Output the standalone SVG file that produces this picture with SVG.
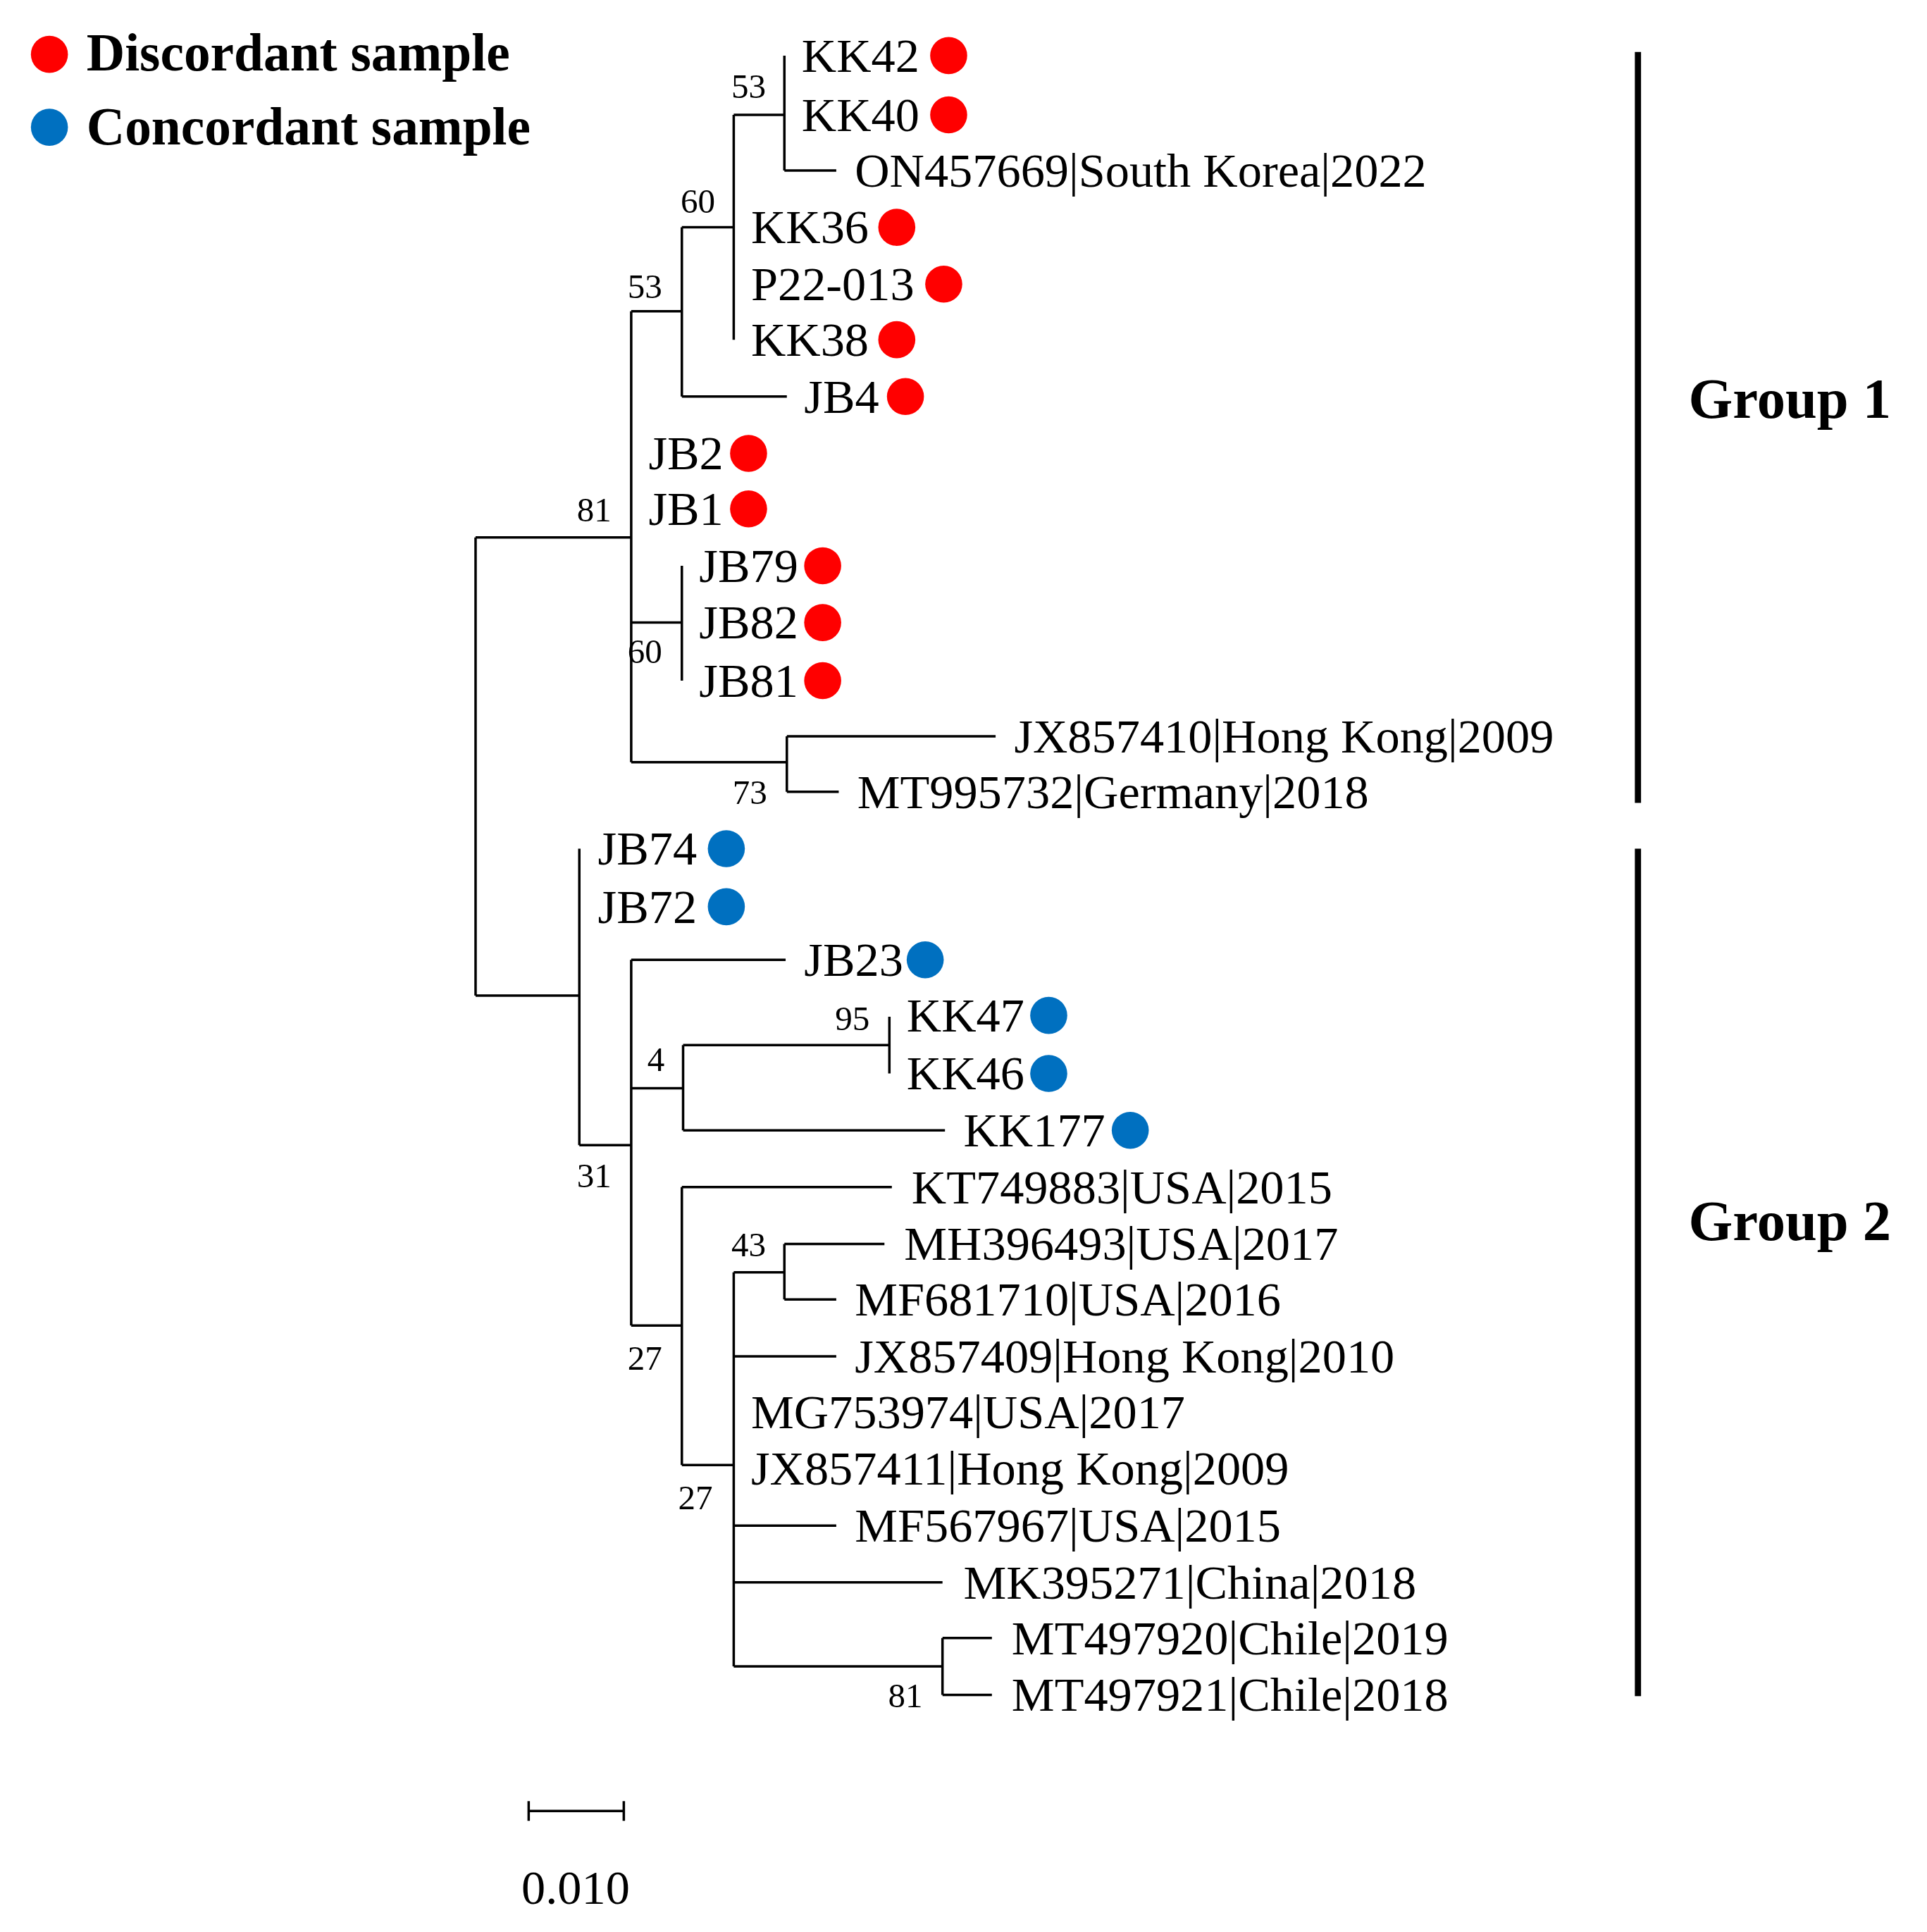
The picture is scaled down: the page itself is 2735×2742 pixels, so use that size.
<svg xmlns="http://www.w3.org/2000/svg" width="2735" height="2742" viewBox="0 0 2735 2742">
<style>
.l{font-family:"Liberation Serif",serif;font-size:39px;fill:#000}
.b{font-family:"Liberation Serif",serif;font-size:28px;fill:#000}
.g{font-family:"Liberation Serif",serif;font-size:46px;font-weight:bold;fill:#000}
.e{stroke:#000;stroke-width:2;fill:none}
.r{fill:#ff0000}.c{fill:#0070c0}
</style>
<rect width="2735" height="2742" fill="#fff"/>
<g transform="scale(1.7532)">
<g id="legend">
<circle class="r" cx="40" cy="44" r="15"/><text class="g" x="70" y="57" style="font-size:43px">Discordant sample</text>
<circle class="c" cx="40" cy="103" r="15"/><text class="g" x="70" y="117" style="font-size:43px">Concordant sample</text>
</g>
<g id="edges" class="e">
<path d="M385,435V806M385,435H511M385,806H469"/>
<path d="M511,252V617M511,252H552M552,184V321M552,321H637M552,184H594M594,93V275M594,93H635M635,45V138M635,138H677"/>
<path d="M511,504H552M552,458V551M511,617H637M637,596V641M637,596H806M637,641H679"/>
<path d="M469,687V927M469,927H511M511,777V1073M511,777H636M511,881H553M553,846V915M553,846H720M553,915H765M720,823V869M511,1073H552"/>
<path d="M552,961V1186M552,961H722M552,1186H594M594,1030V1349M594,1030H635M635,1007V1052M635,1007H716M635,1052H677M594,1098H677M594,1235H677M594,1281H763M594,1349H763M763,1326V1372M763,1326H803M763,1372H803"/>
<path d="M428,1466H505M428,1458V1474M505,1458V1474"/>
</g>
<g id="bootstrap">
<text class="b" x="592" y="79">53</text><text class="b" x="551" y="172">60</text><text class="b" x="508" y="241">53</text>
<text class="b" x="467" y="422">81</text><text class="b" x="508" y="537">60</text><text class="b" x="593" y="651">73</text>
<text class="b" x="676" y="834">95</text><text class="b" x="524" y="867">4</text><text class="b" x="467" y="961">31</text>
<text class="b" x="508" y="1109">27</text><text class="b" x="592" y="1017">43</text><text class="b" x="549" y="1222">27</text><text class="b" x="719" y="1382">81</text>
</g>
<g id="leaves">
<text class="l" x="649" y="58">KK42</text><circle class="r" cx="768" cy="45" r="15"/>
<text class="l" x="649" y="106">KK40</text><circle class="r" cx="768" cy="93" r="15"/>
<text class="l" x="692" y="151">ON457669|South Korea|2022</text>
<text class="l" x="608" y="197">KK36</text><circle class="r" cx="726" cy="184" r="15"/>
<text class="l" x="608" y="243">P22-013</text><circle class="r" cx="764" cy="230" r="15"/>
<text class="l" x="608" y="288">KK38</text><circle class="r" cx="726" cy="275" r="15"/>
<text class="l" x="651" y="334">JB4</text><circle class="r" cx="733" cy="321" r="15"/>
<text class="l" x="525" y="380">JB2</text><circle class="r" cx="606" cy="367" r="15"/>
<text class="l" x="525" y="425">JB1</text><circle class="r" cx="606" cy="412" r="15"/>
<text class="l" x="566" y="471">JB79</text><circle class="r" cx="666" cy="458" r="15"/>
<text class="l" x="566" y="517">JB82</text><circle class="r" cx="666" cy="504" r="15"/>
<text class="l" x="566" y="564">JB81</text><circle class="r" cx="666" cy="551" r="15"/>
<text class="l" x="821" y="609">JX857410|Hong Kong|2009</text>
<text class="l" x="694" y="654">MT995732|Germany|2018</text>
<text class="l" x="484" y="700">JB74</text><circle class="c" cx="588" cy="687" r="15"/>
<text class="l" x="484" y="747">JB72</text><circle class="c" cx="588" cy="734" r="15"/>
<text class="l" x="651" y="790">JB23</text><circle class="c" cx="749" cy="777" r="15"/>
<text class="l" x="734" y="835">KK47</text><circle class="c" cx="849" cy="822" r="15"/>
<text class="l" x="734" y="882">KK46</text><circle class="c" cx="849" cy="869" r="15"/>
<text class="l" x="780" y="928">KK177</text><circle class="c" cx="915" cy="915" r="15"/>
<text class="l" x="738" y="974">KT749883|USA|2015</text>
<text class="l" x="732" y="1020">MH396493|USA|2017</text>
<text class="l" x="692" y="1065">MF681710|USA|2016</text>
<text class="l" x="692" y="1111">JX857409|Hong Kong|2010</text>
<text class="l" x="608" y="1156">MG753974|USA|2017</text>
<text class="l" x="608" y="1202">JX857411|Hong Kong|2009</text>
<text class="l" x="692" y="1248">MF567967|USA|2015</text>
<text class="l" x="780" y="1294">MK395271|China|2018</text>
<text class="l" x="819" y="1339">MT497920|Chile|2019</text>
<text class="l" x="819" y="1385">MT497921|Chile|2018</text>
</g>
<g id="groups">
<path d="M1326,42V650M1326,687V1373" stroke="#000" stroke-width="5"/>
<text class="g" x="1367" y="338">Group 1</text>
<text class="g" x="1367" y="1004">Group 2</text>
</g>
<text class="l" x="466" y="1541" text-anchor="middle">0.010</text>
</g>
</svg>
